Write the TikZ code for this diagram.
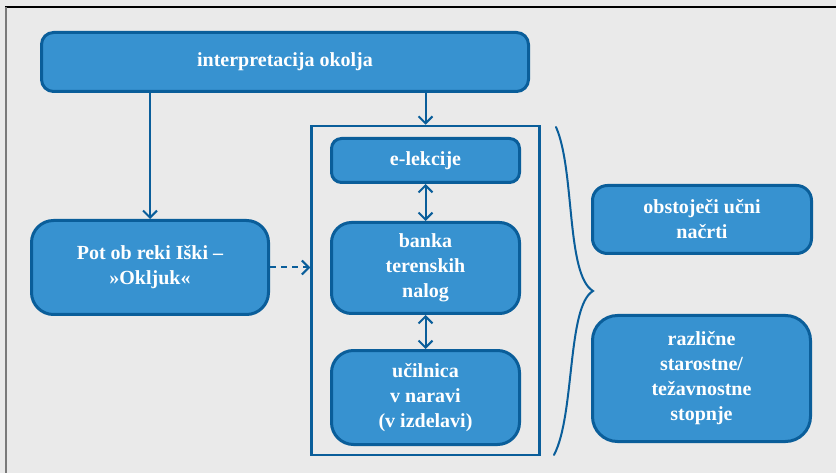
\documentclass[tikz,border=0pt]{standalone}
\usepackage{fontspec}
\setmainfont{Liberation Serif}
\usetikzlibrary{arrows.meta}
\definecolor{bg}{HTML}{EAEAEA}
\definecolor{boxfill}{HTML}{3792D0}
\definecolor{boxline}{HTML}{0A5E9A}
\definecolor{edgegray}{HTML}{7A7A7A}
\begin{document}
\begin{tikzpicture}[x=1pt,y=-1pt,
  >={Straight Barb[length=7pt,width=14pt,line width=2pt]},
  box/.style={draw=boxline, line width=3pt, fill=boxfill, rounded corners=#1,
    text=white, font=\bfseries\fontsize{20}{25}\selectfont, align=center, inner sep=0pt},
  box/.default=12pt,
  conn/.style={draw=boxline, line width=2pt, ->},
  dconn/.style={draw=boxline, line width=2pt, <->},
  dashconn/.style={draw=boxline, line width=2pt, ->, dash pattern=on 6pt off 5pt},
  container/.style={draw=boxline, line width=2.5pt, inner sep=0pt},
  bracestyle/.style={draw=boxline, line width=2pt, line cap=round}
]
\useasboundingbox (0,0) rectangle (836,473);
\fill[bg] (0,0) rectangle (836,473);
\draw[black, line width=2pt] (5,7) -- (836,7);
\draw[edgegray, line width=2pt] (6,7) -- (6,473);

\node[box=12pt, minimum width=487pt, minimum height=59pt] (top) at (285,62) {interpretacija okolja};
\node[box=22pt, minimum width=237pt, minimum height=94pt] (pot) at (150,267.5) {Pot ob reki Iški –\\»Okljuk«};
\node[container, minimum width=228pt, minimum height=329pt] (cont) at (425.5,290.5) {};
\node[box=10pt, minimum width=188pt, minimum height=44pt] (elek) at (425.5,160.5) {e-lekcije};
\node[box=20pt, minimum width=188pt, minimum height=91pt] (banka) at (425.5,268) {banka\\terenskih\\nalog};
\node[box=22pt, minimum width=188pt, minimum height=94pt] (ucil) at (425.5,397.5) {učilnica\\v naravi\\(v izdelavi)};
\node[box=15pt, minimum width=219pt, minimum height=68pt] (ucni) at (702,219.5) {obstoječi učni\\načrti};
\node[box=25pt, minimum width=218pt, minimum height=126pt] (stop) at (701.5,378.5) {različne\\starostne/\\težavnostne\\stopnje};

\draw[conn] (top.south -| pot.north) -- (pot.north);
\draw[conn] (top.south -| cont.north) -- (cont.north);
\draw[dconn] (elek.south) -- (banka.north);
\draw[dconn] (banka.south) -- (ucil.north);
\draw[dashconn] (pot.east) -- (cont.west |- pot.east);

\draw[bracestyle] (556,127) .. controls (575,170) and (566,275) .. (593,291)
  .. controls (567,306) and (575,415) .. (554,455);
\end{tikzpicture}
\end{document}
